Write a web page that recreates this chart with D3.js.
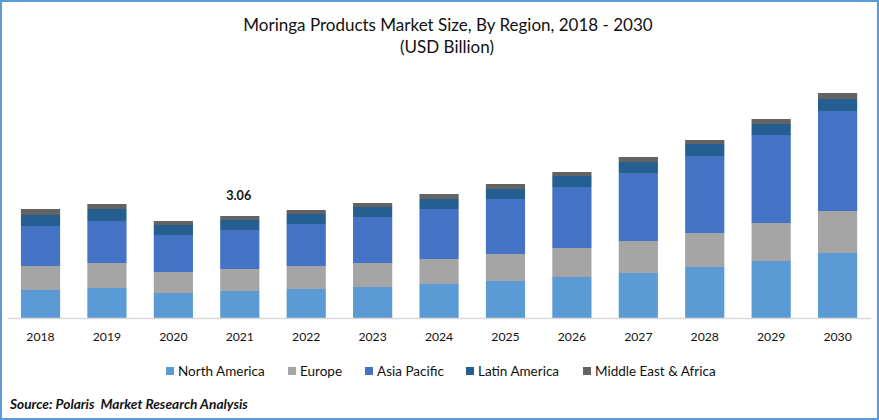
<!DOCTYPE html>
<html>
<head>
<meta charset="utf-8">
<script src="https://cdn.jsdelivr.net/npm/d3@7"></script>
<style>
  html, body { margin: 0; padding: 0; background: #fff; }
  svg { display: block; }
  text { font-family: Lato, "Open Sans", sans-serif; fill: #111; }
</style>
</head>
<body>
<div id="chart"></div>
<script>
var years = ['2018', '2019', '2020', '2021', '2022', '2023', '2024', '2025', '2026', '2027', '2028', '2029', '2030'];
var regions = ['North America', 'Europe', 'Asia Pacific', 'Latin America', 'Middle East & Africa'];
var colors = ['#5b9bd5', '#a5a5a5', '#4472c4', '#255e91', '#636363'];

// values, USD billion
var northAmerica = [0.84, 0.90, 0.75, 0.81, 0.87, 0.93, 1.02, 1.11, 1.23, 1.35, 1.53, 1.71, 1.95];
var europe = [0.72, 0.75, 0.63, 0.66, 0.69, 0.72, 0.75, 0.81, 0.87, 0.96, 1.02, 1.14, 1.26];
var asiaPacific = [1.20, 1.26, 1.11, 1.17, 1.26, 1.38, 1.50, 1.65, 1.83, 2.04, 2.31, 2.64, 3.00];
var latinAmerica = [0.33, 0.36, 0.30, 0.30, 0.30, 0.30, 0.30, 0.30, 0.33, 0.33, 0.36, 0.33, 0.36];
var middleEast = [0.18, 0.15, 0.12, 0.12, 0.12, 0.12, 0.15, 0.15, 0.12, 0.15, 0.12, 0.15, 0.18];

var labelledYear = '2021';
var labelText = '3.06';

var width = 879;
var height = 420;

var rows = years.map(function (year, i) {
  return {
    year: year,
    'North America': northAmerica[i],
    'Europe': europe[i],
    'Asia Pacific': asiaPacific[i],
    'Latin America': latinAmerica[i],
    'Middle East & Africa': middleEast[i]
  };
});

var x = d3.scaleBand().domain(years).range([7.3, 870.8]).paddingInner(0.41).paddingOuter(0.205);
var y = d3.scaleLinear().domain([0, 7.2]).range([318, 78]);
var color = d3.scaleOrdinal().domain(regions).range(colors);

var svg = d3.select('#chart').append('svg')
  .attr('width', width)
  .attr('height', height);

// frame
svg.append('rect')
  .attr('x', 1)
  .attr('y', 1)
  .attr('width', width - 2)
  .attr('height', height - 2)
  .attr('fill', '#fff')
  .attr('stroke', '#5b9bd5')
  .attr('stroke-width', 2);

// title
svg.append('text')
  .attr('x', 448)
  .attr('y', 31)
  .attr('text-anchor', 'middle')
  .style('font-size', '17px')
  .text('Moringa Products Market Size, By Region, 2018 - 2030');
svg.append('text')
  .attr('x', 447)
  .attr('y', 53)
  .attr('text-anchor', 'middle')
  .style('font-size', '17px')
  .text('(USD Billion)');

// bars
var stack = d3.stack().keys(regions)(rows);
svg.append('g').selectAll('g')
  .data(stack)
  .join('g')
  .attr('fill', function (d) { return color(d.key); })
  .selectAll('rect')
  .data(function (d) { return d; })
  .join('rect')
  .attr('x', function (d) { return x(d.data.year); })
  .attr('y', function (d) { return y(d[1]); })
  .attr('width', x.bandwidth())
  .attr('height', function (d) { return y(d[0]) - y(d[1]); });

// axis
var axis = svg.append('g')
  .attr('transform', 'translate(0,318)')
  .call(d3.axisBottom(x).tickSize(0).tickPadding(14.5));
axis.select('.domain').attr('stroke', '#d9d9d9').attr('stroke-width', 1.5);
axis.selectAll('text')
  .style('font-family', 'Lato')
  .style('font-size', '12.2px')
  .attr('fill', '#111');

// the one data label
var labelRow = rows[years.indexOf(labelledYear)];
svg.append('text')
  .attr('x', x(labelledYear) + x.bandwidth() / 2 - 1)
  .attr('y', y(d3.sum(regions, function (r) { return labelRow[r]; })) - 16)
  .attr('text-anchor', 'middle')
  .style('font-size', '12.6px')
  .style('font-weight', 'bold')
  .text(labelText);

// legend
var legendSquareX = [166, 288, 365, 466, 583];
var legend = svg.append('g').selectAll('g')
  .data(regions)
  .join('g')
  .attr('transform', function (d, i) { return 'translate(' + legendSquareX[i] + ',367)'; });
legend.append('rect')
  .attr('width', 8)
  .attr('height', 8)
  .attr('fill', function (d) { return color(d); });
legend.append('text')
  .attr('x', 12)
  .attr('y', 9)
  .style('font-size', '13.5px')
  .text(function (d) { return d; });

// source
svg.append('text')
  .attr('x', 10)
  .attr('y', 409)
  .style('font-size', '13.7px')
  .style('font-weight', 'bold')
  .style('font-style', 'italic')
  .style('white-space', 'pre')
  .text('Source: Polaris  Market Research Analysis');
</script>
</body>
</html>
